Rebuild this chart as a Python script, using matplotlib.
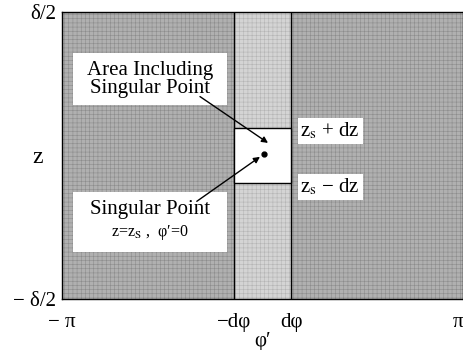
import numpy as np
import matplotlib
matplotlib.use('Agg')
import matplotlib.pyplot as plt
from matplotlib.patches import Rectangle

plt.rcParams['font.family'] = ['Liberation Serif', 'DejaVu Serif']
plt.rcParams['mathtext.fontset'] = 'stix'
plt.rcParams['hatch.linewidth'] = 0.4

# domain (phi' in [-pi, pi], z in [-delta/2, delta/2] with delta/2 = 1)
phi_lim = [-np.pi, np.pi]
z_lim = [-1.0, 1.0]
dphi = 0.45
z_s = 0.0
dz = 0.19
point = (0.02, 0.01)

xtick_pos = [-np.pi, -dphi, dphi, np.pi]
xtick_lab = ['\u2212 \u03c0', '\u2212d\u03c6', 'd\u03c6', '\u03c0']
ytick_pos = [-1.0, z_s, 1.0]
ytick_lab = ['\u2212 \u03b4/2', 'z', '\u03b4/2']

fig = plt.figure(figsize=(4.63, 3.5), dpi=100)
ax = fig.add_axes([0.134, 0.146, 0.866, 0.820])

# shaded regions (halftone-like texture)
ax.axvspan(phi_lim[0], -dphi, facecolor='#b0b0b0', edgecolor='#8c8c8c',
           hatch='++++', lw=0)
ax.axvspan(-dphi, dphi, facecolor='#d4d4d4', edgecolor='#b4b4b4',
           hatch='++++', lw=0)
ax.axvspan(dphi, phi_lim[1], facecolor='#b0b0b0', edgecolor='#8c8c8c',
           hatch='++++', lw=0)
ax.axvline(-dphi, color='k', lw=1.0)
ax.axvline(dphi, color='k', lw=1.0)

# area including singular point
ax.add_patch(Rectangle((-dphi, z_s - dz), 2 * dphi, 2 * dz,
                       facecolor='white', edgecolor='k', lw=1.0, zorder=3))
ax.plot(point[0], point[1], 'ko', ms=3.5, zorder=5)

# text boxes
ax.add_patch(Rectangle((-2.97, 0.352), 2.41, 0.362, facecolor='white',
                       edgecolor='none', zorder=3))
ax.text(-1.76, 0.53, 'Area Including\nSingular Point', ha='center',
        va='center', fontsize=15, linespacing=0.92, zorder=4)
ax.add_patch(Rectangle((-2.97, -0.672), 2.41, 0.418, facecolor='white',
                       edgecolor='none', zorder=3))
ax.text(-1.76, -0.38, 'Singular Point', ha='center', va='center',
        fontsize=15, zorder=4)
ax.text(-1.76, -0.535, 'z=z$_\\mathrm{S}$ ,  \u03c6\u2032=0', ha='center',
        va='center', fontsize=11.5, zorder=4)

ax.text(1.06, z_s + dz - 0.02, 'z$_\\mathrm{s}$ + dz', ha='center', va='center',
        fontsize=15, zorder=4,
        bbox=dict(facecolor='white', edgecolor='none', pad=2))
ax.text(1.06, z_s - dz - 0.03, 'z$_\\mathrm{s}$ \u2212 dz', ha='center', va='center',
        fontsize=15, zorder=4,
        bbox=dict(facecolor='white', edgecolor='none', pad=2))

# arrows
ax.annotate('', xy=(0.086, 0.087), xytext=(-0.98, 0.41), zorder=6,
            arrowprops=dict(arrowstyle='-|>', color='k', lw=1.0,
                            mutation_scale=9, shrinkA=0, shrinkB=0))
ax.annotate('', xy=(-0.04, -0.01), xytext=(-1.03, -0.32), zorder=6,
            arrowprops=dict(arrowstyle='-|>', color='k', lw=1.0,
                            mutation_scale=9, shrinkA=0, shrinkB=0))

ax.set_xlim(phi_lim)
ax.set_ylim(z_lim)
ax.set_xticks(xtick_pos)
ax.set_xticklabels(xtick_lab, fontsize=15)
ax.set_yticks(ytick_pos)
ax.set_yticklabels(ytick_lab, fontsize=15)
ax.tick_params(axis='x', length=0, pad=10)
ax.tick_params(axis='y', length=0, pad=4)
xl = ax.get_xticklabels()
xl[-1].set_ha('right')
yl = ax.get_yticklabels()
yl[1].set_fontsize(17)
yl[1].set_x(-0.035)
ax.set_xlabel('\u03c6\u2032', fontsize=15, labelpad=0)
for s in ax.spines.values():
    s.set_linewidth(1.0)

fig.savefig('out.png', dpi=100)
